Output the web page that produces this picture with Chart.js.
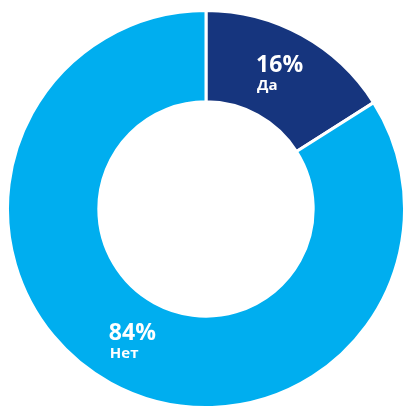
<!DOCTYPE html>
<html>
<head>
<meta charset="utf-8">
<script src="https://cdn.jsdelivr.net/npm/chart.js@4"></script>
<style>
  html, body { margin: 0; padding: 0; background: #fff; overflow: hidden; }
  #wrap { width: 406px; height: 409px; }
</style>
</head>
<body>
<div id="wrap"><canvas id="pie"></canvas></div>
<script>
const categories = ['Да', 'Нет'];
const values = [16, 84];
const colors = ['#16357e', '#00aeef'];

// percent + category label, drawn at the centre of each arc
const sliceLabels = {
    id: 'sliceLabels',
    afterDatasetsDraw(chart) {
        const ctx = chart.ctx;
        const meta = chart.getDatasetMeta(0);
        ctx.save();
        ctx.fillStyle = '#fff';
        ctx.textBaseline = 'alphabetic';
        ctx.textAlign = 'left';
        meta.data.forEach((arc, i) => {
            const p = arc.tooltipPosition();
            const big = values[i] + '%';
            ctx.font = 'bold 23px "Open Sans", sans-serif';
            const w = ctx.measureText(big).width;
            const x = p.x - w / 2;
            ctx.fillText(big, x, p.y - 3);
            ctx.font = 'bold 15px "Open Sans", sans-serif';
            ctx.fillText(categories[i], x + 1, p.y + 15);
        });
        ctx.restore();
    }
};

new Chart(document.getElementById('pie'), {
    type: 'doughnut',
    data: {
        labels: categories,
        datasets: [{
            data: values,
            backgroundColor: colors,
            borderColor: '#fff',
            borderWidth: 3,
            hoverOffset: 0
        }]
    },
    options: {
        responsive: true,
        maintainAspectRatio: false,
        animation: false,
        cutout: '54%',
        layout: { padding: { top: 9, left: 6, right: 0, bottom: 0 } },
        plugins: {
            legend: { display: false },
            tooltip: { enabled: false }
        }
    },
    plugins: [sliceLabels]
});
</script>
</body>
</html>
